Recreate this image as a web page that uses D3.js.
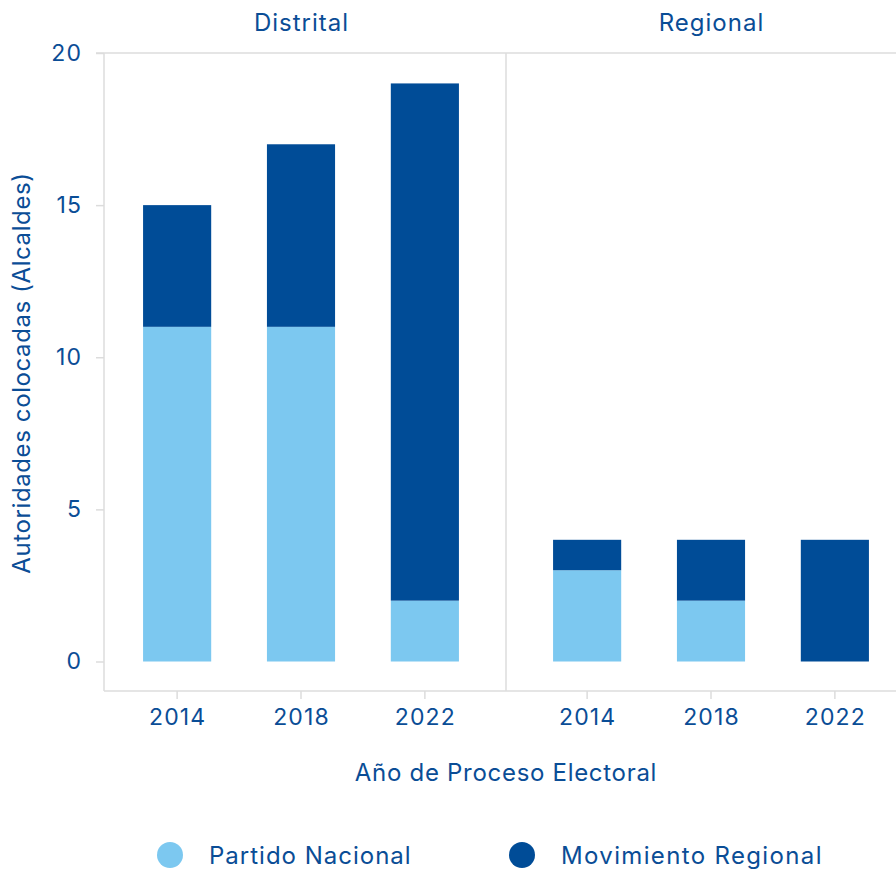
<!DOCTYPE html>
<html><head><meta charset="utf-8">
<script src="https://cdn.jsdelivr.net/npm/d3@7"></script>
<style>body{margin:0;background:#fff}svg{display:block}text{font-family:Inter,"Open Sans",sans-serif}</style>
</head><body><svg id="c" width="896" height="870"></svg>
<script>
const panels = ["Distrital", "Regional"];
const years = ["2014", "2018", "2022"];
const seriesNames = ["Partido Nacional", "Movimiento Regional"];
const partidoNacional = { Distrital: [11, 11, 2], Regional: [3, 2, 0] };
const movimientoRegional = { Distrital: [4, 6, 17], Regional: [1, 2, 4] };
const yTicks = [0, 5, 10, 15, 20];
const colors = ["#7cc8f0", "#004c97"];
const textColor = "#0a4d96";
const lineColor = "#dcdcdc";

const svg = d3.select("#c");
const panelW = 410, panelX0 = 96, axisX = 104;
const y = d3.scaleLinear().domain([0, 20]).range([661.5, 53]);
const px = d3.scaleBand().domain(panels).range([panelX0, panelX0 + 2 * panelW]);
const x = d3.scaleBand().domain(years).range([0, panelW]).paddingInner(0.45).paddingOuter(0.38);
const bottomY = 691;

// frame lines
svg.append("line").attr("x1", panelX0).attr("x2", 896).attr("y1", y(20)).attr("y2", y(20)).attr("stroke", lineColor).attr("stroke-width", 1.5);
svg.append("line").attr("x1", axisX).attr("x2", 896).attr("y1", bottomY).attr("y2", bottomY).attr("stroke", lineColor).attr("stroke-width", 1.5);
svg.append("line").attr("x1", axisX).attr("x2", axisX).attr("y1", y(20)).attr("y2", bottomY).attr("stroke", lineColor).attr("stroke-width", 1.5);
svg.append("line").attr("x1", px("Regional")).attr("x2", px("Regional")).attr("y1", y(20)).attr("y2", bottomY).attr("stroke", lineColor).attr("stroke-width", 1.5);

function styleTick(sel) {
  sel.attr("fill", textColor).attr("font-size", 23).style("font-family", "Inter, sans-serif")
    .style("letter-spacing", "1.1px");
}

// y axis
const yAxis = svg.append("g").attr("transform", `translate(${axisX},0)`)
  .call(d3.axisLeft(y).tickValues(yTicks).tickSize(8).tickPadding(14));
yAxis.select(".domain").remove();
yAxis.selectAll(".tick line").attr("stroke", lineColor).attr("stroke-width", 1.5);
styleTick(yAxis.selectAll(".tick text"));

panels.forEach(p => {
  const g = svg.append("g").attr("transform", `translate(${px(p)},0)`);
  const stacked = years.map((yr, i) => ({ yr, pn: partidoNacional[p][i], mr: movimientoRegional[p][i] }));
  const stack = d3.stack().keys(["pn", "mr"])(stacked);
  stack.forEach((s, si) => {
    g.selectAll(null).data(s).enter().append("rect")
      .attr("x", d => x(d.data.yr)).attr("width", x.bandwidth())
      .attr("y", d => y(d[1])).attr("height", d => y(d[0]) - y(d[1]))
      .attr("fill", colors[si]);
  });
  const xa = g.append("g").attr("transform", `translate(0,${bottomY})`)
    .call(d3.axisBottom(x).tickSize(8).tickPadding(10));
  xa.select(".domain").remove();
  xa.selectAll(".tick line").attr("stroke", lineColor).attr("stroke-width", 1.5);
  styleTick(xa.selectAll(".tick text"));
  xa.selectAll(".tick text").attr("dx", 0.5);
  g.append("text").attr("x", panelW / 2 + 0.5).attr("y", 31).attr("text-anchor", "middle")
    .attr("fill", textColor).attr("font-size", 24).style("letter-spacing", "1px").text(p);
});

svg.append("text").attr("x", 506).attr("y", 781).attr("text-anchor", "middle")
  .attr("fill", textColor).attr("font-size", 24).style("letter-spacing", "0.7px").text("Año de Proceso Electoral");
svg.append("text").attr("transform", "translate(30,373) rotate(-90)").attr("text-anchor", "middle")
  .attr("fill", textColor).attr("font-size", 24).style("letter-spacing", "0.6px").text("Autoridades colocadas (Alcaldes)");

// legend
const legX = [170, 522];
const legSpacing = ["1px", "1.35px"];
seriesNames.forEach((n, i) => {
  svg.append("circle").attr("cx", legX[i]).attr("cy", 855).attr("r", 13).attr("fill", colors[i]);
  svg.append("text").attr("x", legX[i] + 39).attr("y", 864).attr("fill", textColor).attr("font-size", 24)
    .style("letter-spacing", legSpacing[i]).text(n);
});
</script></body></html>
